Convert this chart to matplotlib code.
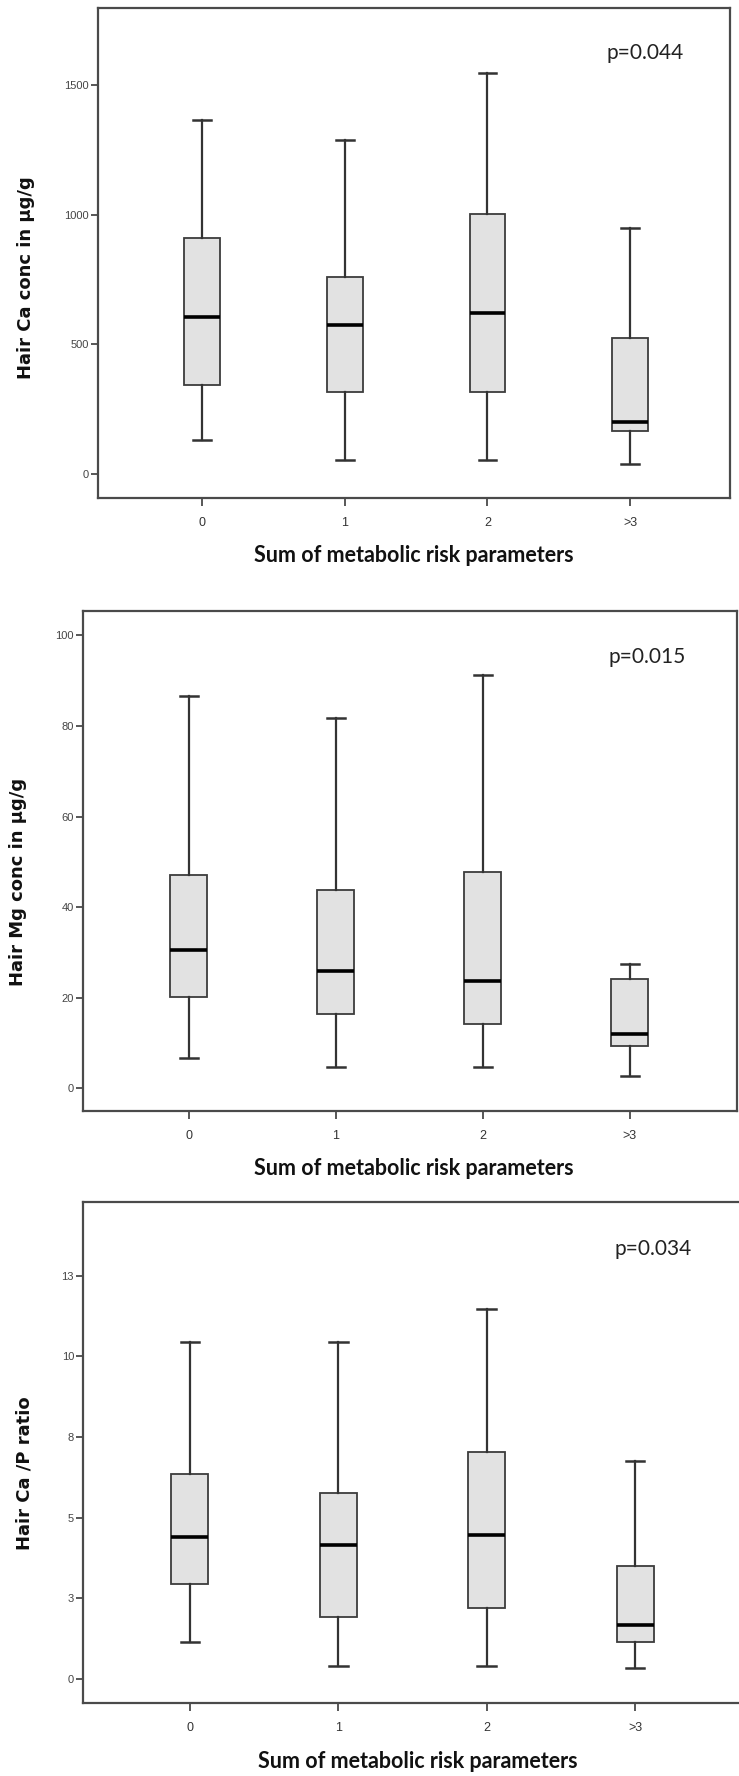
import matplotlib
matplotlib.use("Agg")
import matplotlib.pyplot as plt

W, H = 739, 1776

categories = ["0", "1", "2", ">3"]

# Panel 1: Hair Ca conc (µg/g)
ca_low = [131, 55, 55, 39]
ca_q1 = [343, 315, 315, 164]
ca_med = [605, 574, 621, 201]
ca_q3 = [912, 759, 1004, 525]
ca_high = [1365, 1287, 1548, 950]
ca_ticks = [0, 500, 1000, 1500]
ca_ticklabels = ["0", "500", "1000", "1500"]

# Panel 2: Hair Mg conc (µg/g)
mg_low = [6.7, 4.8, 4.8, 2.8]
mg_q1 = [20.1, 16.4, 14.3, 9.4]
mg_med = [30.6, 26.0, 23.7, 12.1]
mg_q3 = [47.0, 43.7, 47.7, 24.1]
mg_high = [86.7, 81.8, 91.2, 27.5]
mg_ticks = [0, 20, 40, 60, 80, 100]
mg_ticklabels = ["0", "20", "40", "60", "80", "100"]

# Panel 3: Hair Ca/P ratio
cap_low = [1.13, 0.40, 0.39, 0.34]
cap_q1 = [2.94, 1.91, 2.19, 1.14]
cap_med = [4.40, 4.16, 4.47, 1.66]
cap_q3 = [6.35, 5.75, 7.03, 3.50]
cap_high = [10.44, 10.45, 11.47, 6.75]
cap_ticks = [0, 2.5, 5, 7.5, 10, 12.5]
cap_ticklabels = ["0", "3", "5", "8", "10", "13"]

xlabel_text = "Sum of metabolic risk parameters"

panels = [
    dict(box=(98, 8, 730, 498), ylim=(-92.5, 1797), xlim=(-0.73, 3.70),
         stats=(ca_low, ca_q1, ca_med, ca_q3, ca_high), ticks=ca_ticks, tl=ca_ticklabels,
         ylabel="Hair Ca conc in µg/g", ylab_xy=(26, 278), xlab_xy=(414, 556),
         p="p=0.044", p_xy=(606, 53)),
    dict(box=(83, 611, 737, 1111), ylim=(-5.0, 105.4), xlim=(-0.72, 3.73),
         stats=(mg_low, mg_q1, mg_med, mg_q3, mg_high), ticks=mg_ticks, tl=mg_ticklabels,
         ylabel="Hair Mg conc in µg/g", ylab_xy=(18, 882), xlab_xy=(414, 1168),
         p="p=0.015", p_xy=(608, 657)),
    dict(box=(83, 1202, 742, 1703), ylim=(-0.75, 14.78), xlim=(-0.72, 3.72),
         stats=(cap_low, cap_q1, cap_med, cap_q3, cap_high), ticks=cap_ticks, tl=cap_ticklabels,
         ylabel="Hair Ca /P ratio", ylab_xy=(25, 1473), xlab_xy=(418, 1761),
         p="p=0.034", p_xy=(615, 1249)),
]

fig = plt.figure(figsize=(W / 100, H / 100), dpi=100)
fig.patch.set_facecolor("white")

tick_font = "Liberation Sans"
spine_col = "#4a4a4a"

for p in panels:
    l, t, r, b = p["box"]
    ax = fig.add_axes([l / W, 1 - b / H, (r - l) / W, (b - t) / H])
    lo, q1, med, q3, hi = p["stats"]
    bstats = [dict(whislo=lo[i], q1=q1[i], med=med[i], q3=q3[i], whishi=hi[i], fliers=[])
              for i in range(len(categories))]
    ax.bxp(bstats, positions=list(range(len(categories))), widths=0.25, capwidths=0.125,
           patch_artist=True, showfliers=False,
           boxprops=dict(facecolor="#e2e2e2", edgecolor="#3c3c3c", linewidth=1.3),
           medianprops=dict(color="black", linewidth=2.6),
           whiskerprops=dict(color="#333333", linewidth=1.6),
           capprops=dict(color="#333333", linewidth=1.8))
    ax.set_xlim(*p["xlim"])
    ax.set_ylim(*p["ylim"])
    ax.set_xticks(range(len(categories)))
    ax.set_xticklabels(categories, fontsize=9, family=tick_font, color="#333333")
    ax.set_yticks(p["ticks"])
    ax.set_yticklabels(p["tl"], fontsize=8, family=tick_font, color="#444444")
    ax.tick_params(axis="x", direction="out", length=6, width=1.3, color=spine_col, pad=8)
    ax.tick_params(axis="y", direction="out", length=5, width=1.3, color=spine_col, pad=1.5)
    for s in ax.spines.values():
        s.set_color(spine_col)
        s.set_linewidth(1.6)
    ax.set_facecolor("white")
    fig.text(p["ylab_xy"][0] / W, 1 - p["ylab_xy"][1] / H, p["ylabel"], rotation=90,
             ha="center", va="center", fontsize=13, fontweight="bold", family="DejaVu Sans",
             color="#111111")
    fig.text(p["xlab_xy"][0] / W, 1 - p["xlab_xy"][1] / H, xlabel_text,
             ha="center", va="center", fontsize=15.5, fontweight="bold", family="Lato",
             color="#111111")
    fig.text(p["p_xy"][0] / W, 1 - p["p_xy"][1] / H, p["p"],
             ha="left", va="center", fontsize=15, family="Lato", color="#222222")

fig.savefig("out.png", dpi=100, facecolor="white")
